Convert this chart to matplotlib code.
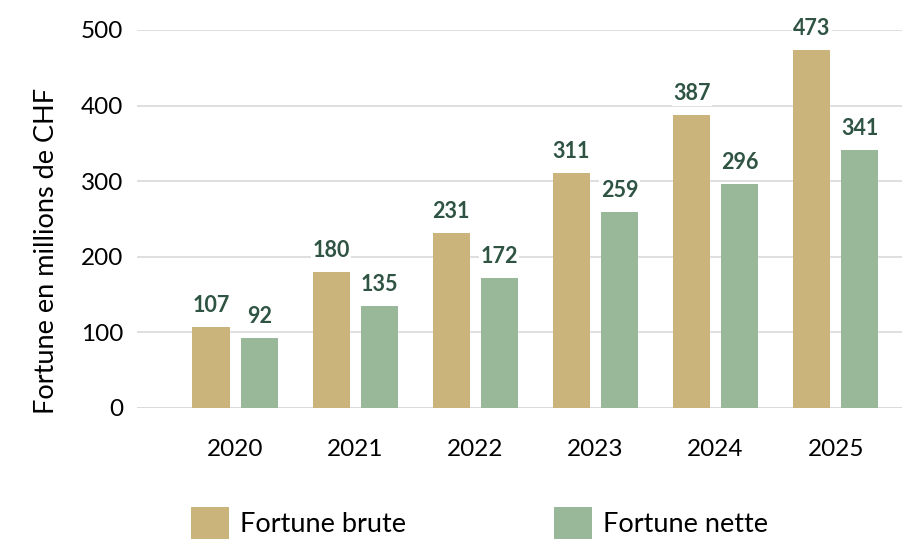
import matplotlib.pyplot as plt
import numpy as np

years = ['2020', '2021', '2022', '2023', '2024', '2025']
brute = [107, 180, 231, 311, 387, 473]
nette = [92, 135, 172, 259, 296, 341]

gold = '#CBB47C'
green = '#98B899'
lab_col = '#2F5443'

plt.rcParams['font.family'] = ['Lato', 'DejaVu Sans']

fig = plt.figure(figsize=(9.03, 5.44), dpi=100)
ax = fig.add_axes([0.1517, 0.25, 0.8483, 0.6949])

x = np.arange(len(years))
w = 0.31
b1 = ax.bar(x - 0.2, brute, w, color=gold, zorder=2, label='Fortune brute')
b2 = ax.bar(x + 0.2, nette, w, color=green, zorder=2, label='Fortune nette')

for bars in (b1, b2):
    for r in bars:
        ax.annotate(str(int(r.get_height())), (r.get_x() + r.get_width() / 2, r.get_height()),
                    xytext=(0, 8), textcoords='offset points', ha='center', va='bottom',
                    fontsize=15.5, fontweight='bold', color=lab_col, zorder=3,
                    bbox=dict(facecolor='white', edgecolor='none', pad=1))

ax.set_xlim(-0.817, 5.56)
ax.set_ylim(0, 500)
ax.set_yticks([0, 100, 200, 300, 400, 500])
ax.set_xticks(x)
ax.set_xticklabels(years)
ax.tick_params(axis='both', length=0, labelsize=17.5)
ax.tick_params(axis='y', pad=10)
ax.tick_params(axis='x', pad=22)
ax.yaxis.grid(True, color='#D9D9D9', linewidth=1.2, zorder=0)
ax.set_axisbelow(True)
for s in ax.spines.values():
    s.set_visible(False)
ax.axhline(0, color='#D9D9D9', linewidth=1.2, zorder=1)

ax.set_ylabel('Fortune en millions de CHF', fontsize=19.5)
ax.yaxis.set_label_coords(-0.102, 0.415)

fig.legend(handles=[b1, b2], loc='lower left', bbox_to_anchor=(0.185, -0.035), ncol=2,
           frameon=False, fontsize=19.5, handlelength=1.4, handleheight=1.4,
           handletextpad=0.4, columnspacing=5.45)

fig.savefig('out.png', dpi=100)
